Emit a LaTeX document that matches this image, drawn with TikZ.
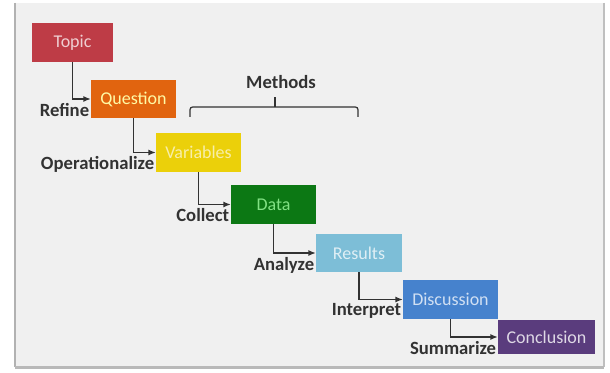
\documentclass[tikz,border=0pt]{standalone}
\usepackage{fontspec}
\setmainfont{Carlito}
\definecolor{topicred}{RGB}{190, 60, 70}
\definecolor{questorange}{RGB}{225, 100, 15}
\definecolor{varyellow}{RGB}{235, 208, 10}
\definecolor{datagreen}{RGB}{12, 120, 20}
\definecolor{reslblue}{RGB}{125, 190, 215}
\definecolor{discblue}{RGB}{70, 130, 205}
\definecolor{conclpurple}{RGB}{90, 60, 125}
\definecolor{inkgray}{RGB}{50, 50, 50}
\definecolor{paper}{RGB}{240, 240, 240}
\usetikzlibrary{arrows.meta, positioning}

\begin{document}
\begin{tikzpicture}[
  x=0.75pt, y=-0.75pt,
  stage/.style={minimum width=85*0.75pt, minimum height=38*0.75pt, inner sep=0pt, font=\fontsize{13.5}{16}\selectfont},
  lbl/.style={text=inkgray, inner sep=1pt, font=\bfseries\fontsize{14}{16}\selectfont},
  flow/.style={draw=inkgray, line width=0.9pt, -{Latex[length=5.5pt, width=4.5pt]}}
]
  \useasboundingbox (0,0) rectangle (610,373);
  \fill[white] (0,0) rectangle (610,373);
  \fill[paper] (15,3) rectangle (604,367);
  \draw[gray!60, line width=1pt] (15,3) -- (15,367);
  \draw[gray!50, line width=0.8pt] (604,3) -- (604,367);
  \fill[gray!55] (15,366) rectangle (604,369);

  \node[stage, fill=topicred, text=topicred!25!white, minimum width=81*0.75pt, minimum height=39*0.75pt] (topic) at (72.5,42.5) {Topic};
  \node[stage, fill=questorange, text=yellow!35!white] (question) at (133.5,99) {Question};
  \node[stage, fill=varyellow, text=varyellow!35!white, minimum height=39*0.75pt] (variables) at (198.5,152.5) {Variables};
  \node[stage, fill=datagreen, text=green!55!datagreen!50!white, minimum height=39*0.75pt] (data) at (273.5,204.5) {Data};
  \node[stage, fill=reslblue, text=reslblue!25!white, minimum width=86*0.75pt] (results) at (359,253) {Results};
  \node[stage, fill=discblue, text=discblue!25!white, minimum width=95*0.75pt, minimum height=39*0.75pt] (discussion) at (450.5,299.5) {Discussion};
  \node[stage, fill=conclpurple, text=conclpurple!20!white, minimum width=97*0.75pt, minimum height=34*0.75pt] (conclusion) at (546.5,337) {Conclusion};

  \draw[flow] (topic.south) |- (question.west);
  \draw[flow] (question.south) |- (variables.west);
  \draw[flow] (variables.south) |- (data.west);
  \draw[flow] (data.south) |- (results.west);
  \draw[flow] (results.south) |- (discussion.west);
  \draw[flow] (discussion.south) |- (conclusion.west);

  \node[lbl, below left=2pt and 0pt of question.west] (refine) {Refine};
  \node[lbl, below left=2pt and 0pt of variables.west] (operationalize) {Operationalize};
  \node[lbl, below left=2pt and 0pt of data.west] (collect) {Collect};
  \node[lbl, below left=2pt and 0pt of results.west] (analyze) {Analyze};
  \node[lbl, below left=2pt and 0pt of discussion.west] (interpret) {Interpret};
  \node[lbl, below left=2pt and 0pt of conclusion.west] (summarize) {Summarize};

  \coordinate (brleft) at (190,117);
  \coordinate (brright) at (358,117);
  \coordinate (brmid) at (275,107);
  \draw[inkgray, line width=0.9pt, rounded corners=2pt] (brleft) -- (190,107) -- (358,107) -- (brright);
  \draw[inkgray, line width=0.9pt] (brmid) -- (275,97);
  \node[lbl] (methods) at (281,82) {Methods};
\end{tikzpicture}
\end{document}
